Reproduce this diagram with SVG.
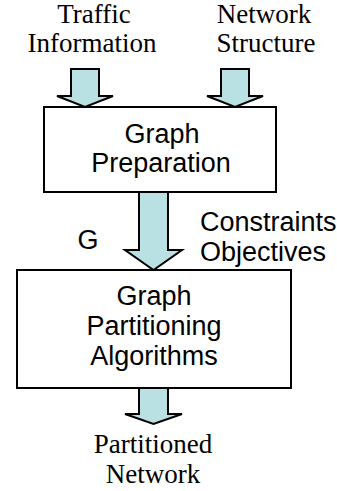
<svg xmlns="http://www.w3.org/2000/svg" width="337" height="491" viewBox="0 0 337 491">
<style>
.box{fill:#fff;stroke:#000;stroke-width:2}
.arr{fill:#b9e1e3;stroke:#000;stroke-width:2;stroke-linejoin:miter}
.serif{font-family:"Liberation Serif","Times New Roman",serif;font-size:27px;fill:#000;text-anchor:middle}
.sans{font-family:"Liberation Sans",Arial,sans-serif;font-size:27px;fill:#000;text-anchor:middle}
.start{text-anchor:start}
</style>
<rect width="337" height="491" fill="#fff"/>
<g id="connectors">
<path class="arr" d="M71,69 H99 V96 H113 L85,107 L57,96 H71 Z"/>
<path class="arr" d="M221,69 H249 V96 H263 L235,107 L207,96 H221 Z"/>
<path class="arr" d="M139,192 H168 V250 H182 L153.5,270 L125,250 H139 Z"/>
<path class="arr" d="M139,388 H168 V414 H182 L153.5,424 L125,414 H139 Z"/>
</g>
<g id="traffic">
<text class="serif" x="94" y="23">Traffic</text>
<text class="serif" x="92" y="52">Information</text>
</g>
<g id="network">
<text class="serif" x="264" y="23">Network</text>
<text class="serif" x="266" y="52">Structure</text>
</g>
<g id="prep">
<rect class="box" x="44" y="107" width="232" height="85"/>
<text class="sans" x="162" y="143">Graph</text>
<text class="sans" x="161" y="172">Preparation</text>
</g>
<g id="labelG"><text class="sans" x="88" y="249">G</text></g>
<g id="constraints">
<text class="sans start" x="200" y="231">Constraints</text>
<text class="sans start" x="200" y="261">Objectives</text>
</g>
<g id="part">
<rect class="box" x="17" y="270" width="274" height="118"/>
<text class="sans" x="154" y="305">Graph</text>
<text class="sans" x="154" y="335">Partitioning</text>
<text class="sans" x="154" y="365">Algorithms</text>
</g>
<g id="output">
<text class="serif" x="153" y="453">Partitioned</text>
<text class="serif" x="153" y="483">Network</text>
</g>
</svg>
